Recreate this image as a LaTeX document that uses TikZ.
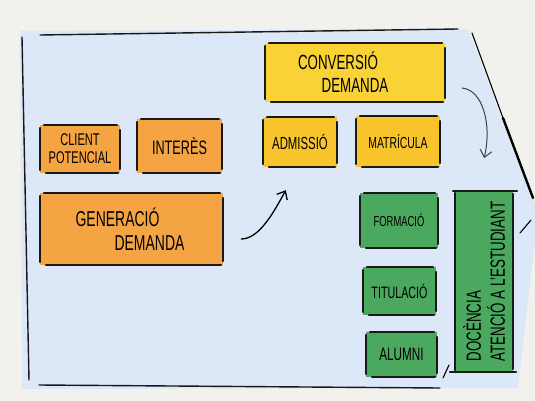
\documentclass[tikz,border=0pt]{standalone}
\usepackage{fontspec}
\setmainfont{Liberation Sans}[FakeStretch=0.65]
\usetikzlibrary{arrows.meta,positioning,calc}
\definecolor{paper}{HTML}{F2F1ED}
\definecolor{wash}{HTML}{DCE8F7}
\definecolor{orangebox}{HTML}{F5A443}
\definecolor{yellowbox}{HTML}{F9D236}
\definecolor{goldbox}{HTML}{F8C42C}
\definecolor{greenbox}{HTML}{4AA85F}

% four loose strokes round a box, like a marker sketch
\newcommand\sketchsides[1]{%
  \draw[pen] ([xshift=4pt]#1.north west) -- ([xshift=-3pt]#1.north east);
  \draw[pen] ([xshift=6pt]#1.south west) -- ([xshift=-2pt]#1.south east);
  \draw[pen] ([yshift=-3pt]#1.north west) -- ([yshift=3pt]#1.south west);
  \draw[pen] ([yshift=-5pt]#1.north east) -- ([yshift=4pt]#1.south east);
}

\begin{document}
\begin{tikzpicture}[x=1pt, y=-1pt,
          box/.style={fill=#1, inner sep=2pt, align=center, text=black},
          pen/.style={line width=1.6pt, line cap=round, black!90},
          frame/.style={line width=1.4pt, line cap=round, black!90},
          flow/.style={-{Straight Barb[length=7pt,width=12pt]}, line width=1.3pt, line cap=round}
      ]
        \useasboundingbox[fill=paper] (0,0) rectangle (535,401);
        \fill[wash] (20,31) -- (468,29) -- (535,205) -- (535,240) -- (518,388) -- (22,389) -- cycle;

        % outline of the process
        \draw[frame] (40,35) -- (458,29);
        \draw[frame] (22,37) -- (29,380);
        \draw[frame] (39,385) -- (440,388);
        \draw[line width=1.1pt, line cap=round] (472,33) -- (503,118);
        \draw[line width=2.4pt, line cap=round] (503,118) -- (533,198);
        \draw[line width=1.1pt, line cap=round] (520,233) -- (531,220);
        \draw[line width=1.1pt, line cap=round] (443,378) -- (449,365);

        % demand generation
        \node[box=orangebox, minimum width=80pt, minimum height=48pt,
              font=\fontsize{17}{18}\selectfont] (client) at (80,149)
              {CLIENT\\POTENCIAL};
        \node[box=orangebox, minimum width=85pt, minimum height=54pt,
              font=\fontsize{19.5}{21}\selectfont] (interes) at (179.5,146)
              {INTERÈS};
        \node[box=orangebox, minimum width=183pt, minimum height=72pt,
              font=\fontsize{21.5}{24}\selectfont] (generacio) at (131.5,229)
              {GENERACIÓ\hspace*{28pt}\\\hspace*{36pt}DEMANDA};

        % demand conversion
        \node[box=yellowbox, minimum width=180pt, minimum height=59pt,
              font=\fontsize{20.5}{23}\selectfont] (conversio) at (355,72.5)
              {CONVERSIÓ\hspace*{34pt}\\DEMANDA};
        \node[box=goldbox, minimum width=74pt, minimum height=50pt,
              font=\fontsize{17.5}{19}\selectfont] (admissio) at (300,142)
              {ADMISSIÓ};
        \node[box=goldbox, minimum width=84pt, minimum height=51pt,
              font=\fontsize{16}{18}\selectfont] (matricula) at (398,141.5)
              {MATRÍCULA};

        % student life
        \node[box=greenbox, minimum width=78pt, minimum height=55pt,
              font=\fontsize{14.5}{16}\selectfont] (formacio) at (399,220.5)
              {FORMACIÓ};
        \node[box=greenbox, minimum width=73pt, minimum height=48pt,
              font=\fontsize{16.5}{18}\selectfont] (titulacio) at (399.5,291)
              {TITULACIÓ};
        \node[box=greenbox, minimum width=71pt, minimum height=45pt,
              font=\fontsize{18}{20}\selectfont] (alumni) at (401.5,354.5)
              {ALUMNI};
        \node[box=greenbox, rotate=90, minimum width=181pt, minimum height=58pt,
              align=left, font=\fontsize{20.5}{24}\selectfont] (docencia) at (484,281.5)
              {DOCÈNCIA\\ATENCIÓ A L'ESTUDIANT};

        \foreach \n in {client,interes,generacio,conversio,admissio,matricula,formacio,titulacio,alumni}
          {\sketchsides{\n}}
        \draw[pen] ([yshift=3pt]docencia.south west) -- ([yshift=-3pt]docencia.south east);
        \draw[pen] ([yshift=2pt]docencia.north west) -- ([yshift=-2pt]docencia.north east);
        \draw[pen] ([xshift=4pt]docencia.south east) -- ([xshift=-2pt]docencia.north east);
        \draw[pen] ([xshift=3pt]docencia.south west) -- ([xshift=-5pt]docencia.north west);

        \draw[flow] ([xshift=18pt,yshift=-10pt]generacio.east)
              .. controls +(18,0) and +(-12,22) .. ([xshift=23pt,yshift=-23pt]admissio.south west);
        \draw[flow, black!75, line width=1pt] ([xshift=17pt,yshift=-15.5pt]conversio.east)
              .. controls +(20,2) and +(8,-35) .. ([xshift=44pt,yshift=-16.5pt]matricula.east);
      \end{tikzpicture}
\end{document}
